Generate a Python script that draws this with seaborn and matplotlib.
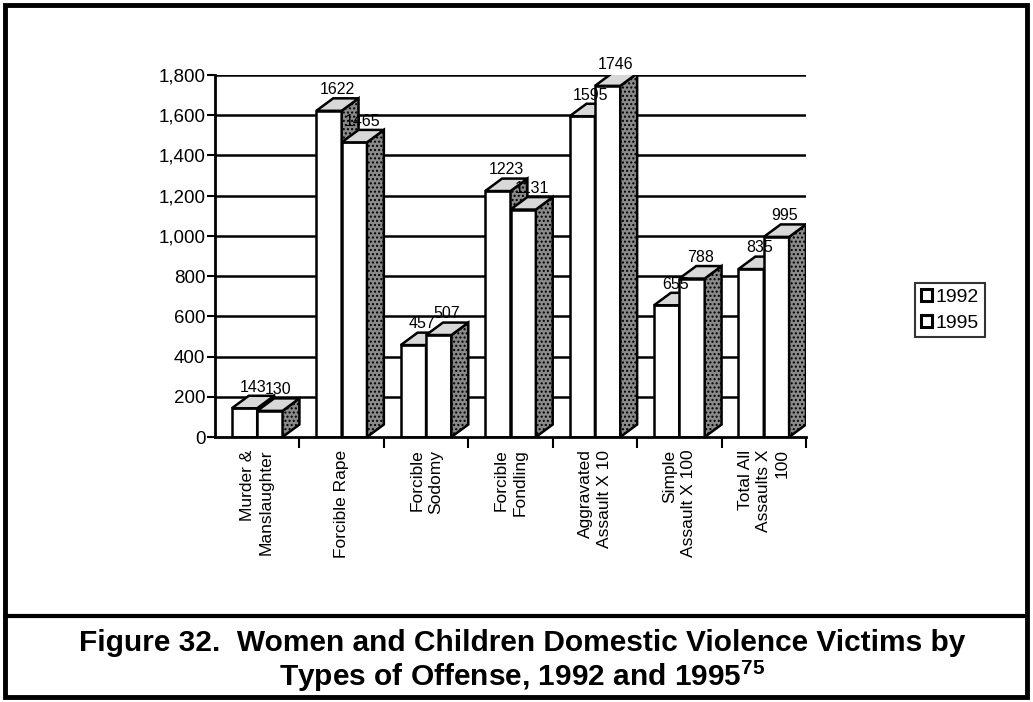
### pseudo-3D grouped bar chart of domestic violence victims by offense type

import matplotlib
matplotlib.use('Agg')
import matplotlib.pyplot as plt
from matplotlib.patches import Polygon, Patch, Rectangle
from matplotlib.ticker import FuncFormatter, FixedLocator
import numpy as np
import pandas as pd
import seaborn as sns

categories = ['Murder &\nManslaughter', 'Forcible Rape', 'Forcible\nSodomy', 'Forcible\nFondling',
              'Aggravated\nAssault X 10', 'Simple\nAssault X 100', 'Total All\nAssaults X\n100']
years = ['1992', '1995']
vals_1992 = [143, 1622, 457, 1223, 1595, 655, 835]
vals_1995 = [130, 1465, 507, 1131, 1746, 788, 995]
yticks = list(range(0, 1801, 200))

df = pd.DataFrame({
    'offense': categories * 2,
    'year': [years[0]] * len(categories) + [years[1]] * len(categories),
    'victims': vals_1992 + vals_1995,
})

sns.set_style('white')
plt.rcParams['font.family'] = ['Liberation Sans', 'DejaVu Sans']
plt.rcParams['mathtext.fontset'] = 'custom'
plt.rcParams['mathtext.rm'] = 'Liberation Sans:bold'
plt.rcParams['text.color'] = 'black'
plt.rcParams['xtick.color'] = 'black'
plt.rcParams['ytick.color'] = 'black'
plt.rcParams['axes.labelcolor'] = 'black'

fig = plt.figure(figsize=(10.33, 7.02), dpi=100)
ax = fig.add_axes([215/1033, 1 - 437/702, (806-215)/1033, (437-75)/702])

sns.barplot(data=df, x='offense', y='victims', hue='year', order=categories, hue_order=years,
            palette=['white', 'white'], edgecolor='black', linewidth=1.8, width=0.6,
            dodge=True, legend=False, ax=ax, zorder=3)

ax.set_xlim(-0.5, 6.5)
ax.set_ylim(0, 1800)

# depth of the fake 3d boxes, in data units
dx = 0.2
dy = 62

bars = sorted([p for p in ax.patches if isinstance(p, Rectangle)], key=lambda p: p.get_x())
for i, b in enumerate(bars):
    x0, w, h = b.get_x(), b.get_width(), b.get_height()
    z = 3 + i * 0.1
    b.set_zorder(z)
    side = Polygon([[x0 + w, 0], [x0 + w + dx, dy], [x0 + w + dx, h + dy], [x0 + w, h]],
                   closed=True, facecolor='#8a8a8a', edgecolor='black', lw=1.8, zorder=z,
                   hatch='....')
    top = Polygon([[x0, h], [x0 + dx, h + dy], [x0 + w + dx, h + dy], [x0 + w, h]],
                  closed=True, facecolor='#d8d8d8', edgecolor='black', lw=1.8, zorder=z)
    ax.add_patch(side)
    ax.add_patch(top)
    ax.text(x0 + w / 2 + dx / 2, h + dy + 6, f'{int(round(h))}', ha='center', va='bottom',
            fontsize=11.5, zorder=10)

# gridlines
for v in yticks[1:]:
    ax.axhline(v, color='black', lw=1.8, zorder=1)

ax.set_yticks(yticks)
ax.yaxis.set_major_formatter(FuncFormatter(lambda v, p: f'{int(v):,}'))
ax.tick_params(axis='y', labelsize=13.5, length=6, width=1.5, color='black', direction='out', pad=1, left=True)

ax.set_xticks(range(len(categories)))
ax.set_xticklabels(categories, rotation=90, fontsize=12.5, va='top', ha='center',
                   multialignment='right', linespacing=1.3)
ax.tick_params(axis='x', length=0, pad=9)
ax.xaxis.set_minor_locator(FixedLocator(np.arange(0.5, 7, 1)))
ax.tick_params(axis='x', which='minor', length=8, width=1.5, color='black', direction='out', bottom=True)

ax.set_xlabel('')
ax.set_ylabel('')
for s in ['top', 'right']:
    ax.spines[s].set_visible(False)
for s in ['left', 'bottom']:
    ax.spines[s].set_color('black')
    ax.spines[s].set_linewidth(2)
    ax.spines[s].set_zorder(20)

handles = [Patch(facecolor='white', edgecolor='black', lw=2.2, label=y) for y in years]
leg = fig.legend(handles=handles, loc='upper left', bbox_to_anchor=(915/1033, 1 - 283/702),
                 frameon=True, fancybox=False, edgecolor='black', fontsize=14,
                 handlelength=0.55, handleheight=0.55, handletextpad=0.2, borderpad=0.3,
                 labelspacing=0.45, borderaxespad=0)
leg.get_frame().set_linewidth(1.5)

# outer frame and divider
fig.patches.append(Rectangle((5/1033, 5/702), 1022/1033, 692/702, transform=fig.transFigure,
                             fill=False, edgecolor='black', lw=3.5))
fig.add_artist(plt.Line2D([5/1033, 1027/1033], [1 - 616/702, 1 - 616/702], color='black', lw=3,
                          transform=fig.transFigure))

fig.text(522/1033, 1 - 643/702, 'Figure 32.  Women and Children Domestic Violence Victims by',
         ha='center', va='center', fontsize=21.5, fontweight='bold')
fig.text(522/1033, 1 - 676/702, r'Types of Offense, 1992 and 1995$^{\mathrm{75}}$',
         ha='center', va='center', fontsize=21.5, fontweight='bold')

fig.savefig('out.png', dpi=100)
